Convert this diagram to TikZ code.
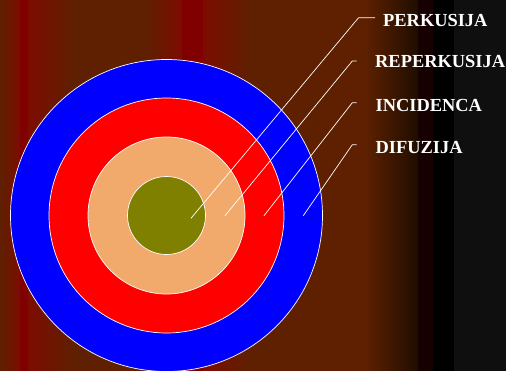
\documentclass[tikz,border=0pt]{standalone}
\usepackage{fontspec}
\setmainfont{Liberation Serif}
\definecolor{bgbrown}{RGB}{94,32,0}
\definecolor{bgred}{RGB}{125,12,0}
\definecolor{bgdeep}{RGB}{128,0,0}
\definecolor{bgdark}{RGB}{30,14,0}
\definecolor{bgdarkred}{RGB}{22,0,0}
\definecolor{bggray}{RGB}{15,15,15}
\definecolor{ringblue}{RGB}{0,0,255}
\definecolor{ringred}{RGB}{255,0,0}
\definecolor{ringtan}{RGB}{241,170,107}
\definecolor{ringolive}{RGB}{128,128,0}
\begin{document}
\begin{tikzpicture}[x=1pt,y=-1pt,
  ring/.style={circle,draw=white,line width=0.7pt,inner sep=0pt},
  lbl/.style={anchor=base west,inner sep=0pt,text=white,font=\fontsize{18.4}{20}\selectfont\bfseries},
  leader/.style={draw=white,line width=0.7pt}]
\useasboundingbox (0,0) rectangle (506,370);
\clip (0,0) rectangle (506,370);
% background stripes
\fill[bgbrown] (-10,-10) rectangle (516,380);
\shade[left color=bgbrown,right color=bgred] (0,-10) rectangle (20,380);
\fill[bgdeep] (20,-10) rectangle (28,380);
\shade[left color=bgred,right color=bgbrown] (28,-10) rectangle (75,380);
\shade[left color=bgbrown,right color=bgred] (145,-10) rectangle (182,380);
\fill[bgdeep] (182,-10) rectangle (203,380);
\shade[left color=bgred,right color=bgbrown] (203,-10) rectangle (250,380);
\shade[left color=bgbrown,right color=bgdark] (365,-10) rectangle (418,380);
\fill[bgdarkred] (418,-10) rectangle (433,380);
\fill[black] (433,-10) rectangle (454,380);
\fill[bggray] (454,-10) rectangle (516,380);
% rings
\node[ring,fill=ringblue,minimum size=312pt] (blue) at (166.5,215.5) {};
\node[ring,fill=ringred,minimum size=235pt] (red) at (166.5,215.5) {};
\node[ring,fill=ringtan,minimum size=157pt] (tan) at (166.5,215.5) {};
\node[ring,fill=ringolive,minimum size=78pt] (olive) at (166.5,215.5) {};
% labels
\node[lbl] (perk) at (383,26) {PERKUSIJA};
\node[lbl] (reperk) at (375,67.4) {REPERKUSIJA};
\node[lbl] (inc) at (375.5,111.6) {INCIDENCA};
\node[lbl] (dif) at (375.5,153.3) {DIFUZIJA};
% leader points
\coordinate (p0) at (191,218.3);
\coordinate (p1) at (358.5,17.8);
\coordinate (p2) at (375,17.8);
\coordinate (r0) at (225,215.7);
\coordinate (r1) at (352.3,61);
\coordinate (r2) at (356.7,61);
\coordinate (i0) at (264,215.7);
\coordinate (i1) at (352.3,102.7);
\coordinate (i2) at (356.7,102.7);
\coordinate (d0) at (303.3,215.7);
\coordinate (d1) at (352.3,144.7);
\coordinate (d2) at (356.7,144.7);
\draw[leader] (p0) -- (p1) -- (p2);
\draw[leader] (r0) -- (r1) -- (r2);
\draw[leader] (i0) -- (i1) -- (i2);
\draw[leader] (d0) -- (d1) -- (d2);
\end{tikzpicture}
\end{document}
